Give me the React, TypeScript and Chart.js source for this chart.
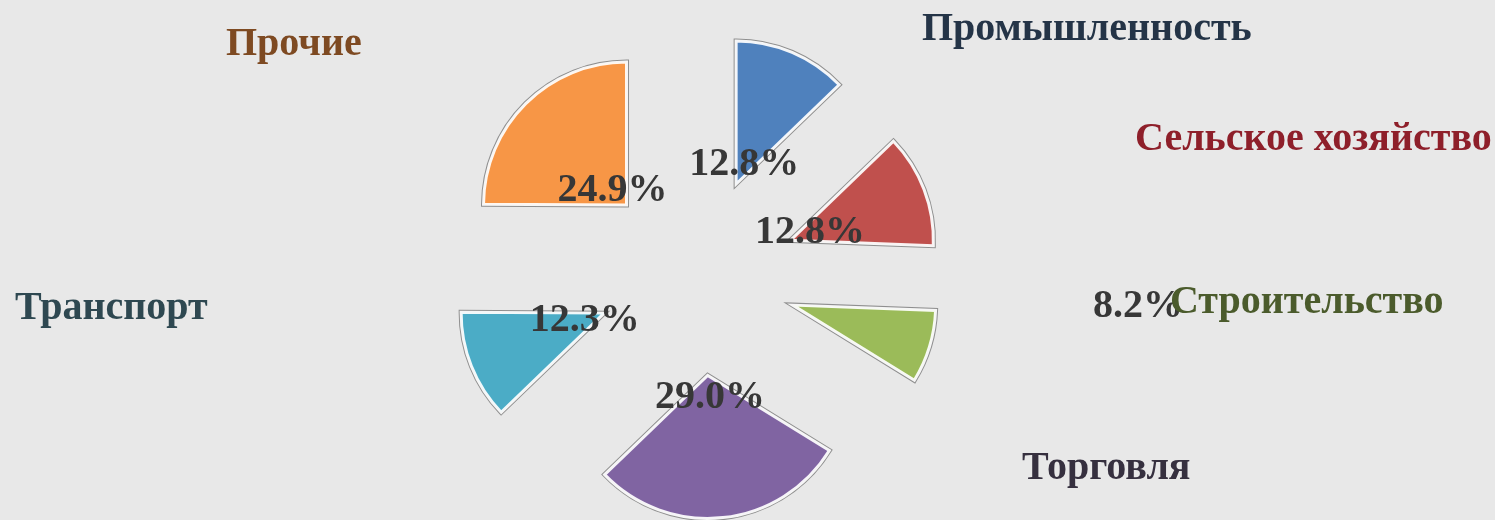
import { useEffect, useRef } from 'react';
import { Chart, registerables } from 'chart.js';

Chart.register(...registerables);

// ---- data ----
const categories = ['Промышленность', 'Сельское хозяйство', 'Строительство', 'Торговля', 'Транспорт', 'Прочие'];
const shares = [12.8, 12.8, 8.2, 29.0, 12.3, 24.9];

// ---- styles ----
const sliceColors = ['#4F81BD', '#C0504D', '#9BBB59', '#8064A2', '#4BACC6', '#F79646'];
const nameColors = ['#243447', '#8E1F2A', '#4B5B2C', '#36303F', '#2E4851', '#7E4A22'];
const pctColor = '#373737';

// ---- layout ----
const W = 1495;
const H = 520;
const RADIUS = 143;
const EXPLODE = 100;
const FONT = 'bold 40px "Liberation Serif", "Times New Roman", serif';
// category label anchors: [left, baseline]
const nameAnchors = [
  [922, 40],
  [1135, 150],
  [1170, 313],
  [1022, 479],
  [15, 319],
  [226, 55],
];
// percent labels: [distance from pie centre along slice bisector, angle shift in degrees]
const pctPlacement = [
  [121, 0],
  [121, 0],
  [442, -13],
  [122, 0],
  [121, 0],
  [120, 0],
];

const explodePlugin = {
  id: 'explodedSlices',
  beforeDatasetDraw(chart: any, args: any) {
    const ctx = chart.ctx;
    const arcs = args.meta.data;
    arcs.forEach((arc: any) => {
      const { x, y, startAngle, endAngle, outerRadius } = arc;
      const mid = (startAngle + endAngle) / 2;
      ctx.save();
      ctx.translate(Math.cos(mid) * EXPLODE, Math.sin(mid) * EXPLODE);
      ctx.beginPath();
      ctx.moveTo(x, y);
      ctx.arc(x, y, outerRadius, startAngle, endAngle);
      ctx.closePath();
      ctx.lineWidth = 5;
      ctx.lineJoin = 'miter';
      ctx.strokeStyle = '#8f8f8f';
      ctx.stroke();
      arc.draw(ctx);
      ctx.restore();
    });
    return false;
  },
  afterDatasetsDraw(chart: any) {
    const ctx = chart.ctx;
    const arcs = chart.getDatasetMeta(0).data;
    ctx.save();
    ctx.font = FONT;
    // percent labels
    ctx.textAlign = 'center';
    ctx.textBaseline = 'middle';
    ctx.fillStyle = pctColor;
    arcs.forEach((arc: any, i: number) => {
      const { x, y, startAngle, endAngle } = arc;
      const [dist, shift] = pctPlacement[i];
      const a = (startAngle + endAngle) / 2 + (shift * Math.PI) / 180;
      ctx.fillText(shares[i].toFixed(1) + '%', x + Math.cos(a) * dist, y + Math.sin(a) * dist);
    });
    // category labels
    ctx.textAlign = 'left';
    ctx.textBaseline = 'alphabetic';
    categories.forEach((name, i) => {
      ctx.fillStyle = nameColors[i];
      ctx.fillText(name, nameAnchors[i][0], nameAnchors[i][1]);
    });
    ctx.restore();
  },
};

export default function App() {
  const ref = useRef<HTMLCanvasElement | null>(null);
  useEffect(() => {
    if (!ref.current) return;
    const chart = new Chart(ref.current, {
      type: 'pie',
      data: {
        labels: categories,
        datasets: [
          {
            data: shares,
            backgroundColor: sliceColors,
            borderColor: 'rgba(255,255,255,0.92)',
            borderWidth: 3,
            borderJoinStyle: 'miter',
          } as any,
        ],
      },
      options: {
        responsive: false,
        maintainAspectRatio: false,
        devicePixelRatio: 1,
        animation: false,
        radius: RADIUS,
        layout: { padding: { left: 0, right: 101, top: 32, bottom: 0 } },
        plugins: {
          legend: { display: false },
          tooltip: { enabled: false },
        },
      } as any,
      plugins: [explodePlugin],
    });
    return () => chart.destroy();
  }, []);
  return (
    <div
      style={{
        position: 'fixed',
        left: 0,
        top: 0,
        width: W,
        height: H,
        background: '#e8e8e8',
      }}
    >
      <canvas ref={ref} width={W} height={H} style={{ display: 'block' }} />
    </div>
  );
}
